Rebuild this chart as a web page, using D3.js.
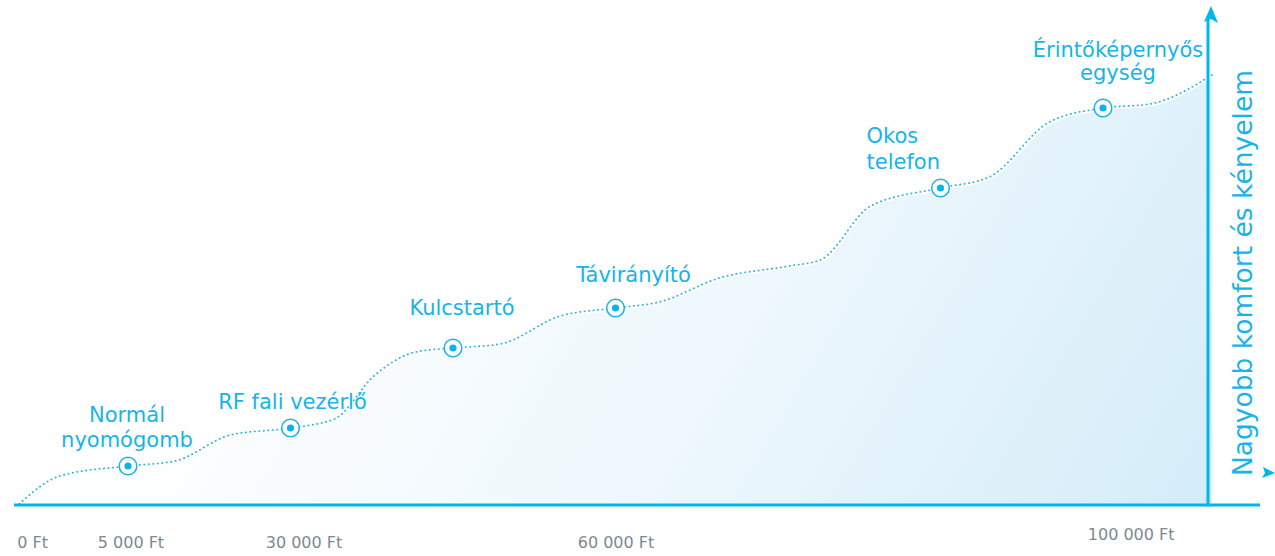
<!DOCTYPE html>
<html lang="hu">
<head>
    <meta charset="UTF-8">
    <title>Komfort és ár</title>
    <script src="https://d3js.org/d3.v7.min.js"></script>
    <style>
        * { margin: 0; padding: 0; }
        body { background: #fff; }
        svg text { font-family: "DejaVu Sans", Verdana, sans-serif; }
    </style>
</head>
<body>
<div id="content"></div>
<script>
    // termékek (x: lépés a tengelyen, y: komfort szint)
    var products = ["Normál nyomógomb", "RF fali vezérlő", "Kulcstartó", "Távirányító", "Okos telefon", "Érintőképernyős egység"];
    var productSteps = [0, 1, 2, 3, 5, 6];
    var productComfort = [9.75, 19.25, 39.25, 49.25, 79.25, 99.25];

    // a hullámos görbe pontjai (lépés, komfort)
    var curveSteps =   [-0.67, -0.42, 0, 0.29, 0.63, 1, 1.27, 1.52, 1.77, 2, 2.29, 2.66, 3, 3.27, 3.64, 4.07, 4.26, 4.57, 5, 5.3, 5.67, 6, 6.29, 6.67];
    var curveComfort = [0.25, 7.25, 9.75, 11, 17.5, 19.25, 21.5, 32.5, 38.25, 39.25, 40.25, 47.25, 49.25, 50.75, 56.75, 59.75, 61.25, 74.75, 79.25, 82, 95.75, 99.25, 100.25, 107.5];

    // x tengely feliratai
    var tickLabels = ["0 Ft", "5 000 Ft", "30 000 Ft", "60 000 Ft", "100 000 Ft"];
    var tickSteps = [-0.59, 0.015, 1.08, 3.0, 6.17];

    var yAxisLabel = "Nagyobb komfort és kényelem";

    var width = 1275, height = 556;
    var blue = "#17b3ea";

    var svg = d3.select("#content").append("svg")
        .attr("width", width).attr("height", height);

    /* méretarányok */
    var xScale = d3.scaleLinear().domain([0, 6]).range([128, 1103]);
    var yScale = d3.scaleLinear().domain([0, 100]).range([505, 105]);

    // színátmenet a kitöltéshez
    var defs = svg.append("defs");
    var grad = defs.append("linearGradient").attr("id", "fillGrad")
        .attr("gradientUnits", "userSpaceOnUse")
        .attr("x1", 300).attr("y1", 60).attr("x2", 1150).attr("y2", 560);
    grad.append("stop").attr("offset", 0).attr("stop-color", "#ffffff");
    grad.append("stop").attr("offset", 0.5).attr("stop-color", "#eff8fd");
    grad.append("stop").attr("offset", 1).attr("stop-color", "#d5edf9");

    var curveData = curveSteps.map(function(s, i){ return [s, curveComfort[i]]; });

    var area = d3.area()
        .x(function(d){ return xScale(d[0]); })
        .y0(yScale(0))
        .y1(function(d){ return yScale(d[1]); })
        .curve(d3.curveMonotoneX);

    var line = d3.line()
        .x(function(d){ return xScale(d[0]); })
        .y(function(d){ return yScale(d[1]); })
        .curve(d3.curveMonotoneX);

    svg.append("path").attr("d", area(curveData))
        .attr("fill", "url(#fillGrad)");

    // fehér szegély a pontozott vonal alatt
    svg.append("path").attr("d", line(curveData))
        .attr("fill", "none").attr("stroke", "#fff").attr("stroke-width", 5);

    svg.append("path").attr("d", line(curveData))
        .attr("fill", "none").attr("stroke", "#26b3e6")
        .attr("stroke-width", 1.8)
        .attr("stroke-linecap", "round")
        .attr("stroke-dasharray", "0.3 4.2");

    /* tengelyek */
    var axisY = yScale(0);
    svg.append("line")
        .attr("x1", 14).attr("x2", 1260)
        .attr("y1", axisY).attr("y2", axisY)
        .attr("stroke", "#00b6f0").attr("stroke-width", 3);

    var vx = 1208;
    svg.append("line")
        .attr("x1", vx).attr("x2", vx)
        .attr("y1", axisY + 1.5).attr("y2", 16)
        .attr("stroke", "#00b6f0").attr("stroke-width", 3);
    svg.append("path")
        .attr("d", "M1211,6 L1218,23 L1211,19 L1204,22 Z")
        .attr("fill", "#00b6f0");
    svg.append("path")
        .attr("d", "M1275,473 L1262,478 L1265,473 L1263,467 Z")
        .attr("fill", "#00b6f0");

    var xAxis = d3.axisBottom(xScale)
        .tickValues(tickSteps)
        .tickSize(0)
        .tickFormat(function(d, i){ return tickLabels[i]; });
    var gx = svg.append("g")
        .attr("transform", "translate(0," + axisY + ")")
        .call(xAxis);
    gx.select(".domain").remove();
    gx.selectAll("text")
        .attr("font-family", "DejaVu Sans, Verdana, sans-serif")
        .attr("font-size", 16)
        .attr("fill", "#7b8a91")
        .attr("dy", 0)
        .attr("y", function(d, i){ return i === tickLabels.length - 1 ? 35 : 43; });

    svg.append("text")
        .attr("transform", "translate(1252," + 273 + ") rotate(-90)")
        .attr("text-anchor", "middle")
        .attr("font-size", 26.5)
        .attr("fill", blue)
        .text(yAxisLabel);

    /* pontok */
    var markers = svg.selectAll("g.marker").data(products).enter()
        .append("g").attr("class", "marker")
        .attr("transform", function(d, i){
            return "translate(" + xScale(productSteps[i]) + "," + yScale(productComfort[i]) + ")";
        });
    markers.append("circle").attr("r", 8.8)
        .attr("fill", "#fff").attr("stroke", blue).attr("stroke-width", 1.5);
    markers.append("circle").attr("r", 3.6).attr("fill", "#0cb2ec");

    // feliratok elhelyezése a pontokhoz képest
    var labelLayout = [
        {anchor: "middle", dx: -1, dy: -44, lh: 25},
        {anchor: "middle", dx: 2, dy: -19, lh: 25},
        {anchor: "middle", dx: 9, dy: -33, lh: 25},
        {anchor: "middle", dx: 18, dy: -26, lh: 25},
        {anchor: "start", dx: -74, dy: -45, lh: 26},
        {anchor: "middle", dx: 15, dy: -51, lh: 23}
    ];
    var labelLines = [["Normál", "nyomógomb"], ["RF fali vezérlő"], ["Kulcstartó"], ["Távirányító"], ["Okos", "telefon"], ["Érintőképernyős", "egység"]];

    markers.append("text")
        .attr("text-anchor", function(d, i){ return labelLayout[i].anchor; })
        .attr("font-size", 21)
        .attr("fill", blue)
        .each(function(d, i){
            var t = d3.select(this);
            labelLines[i].forEach(function(s, j){
                t.append("tspan")
                    .attr("x", labelLayout[i].dx)
                    .attr("y", labelLayout[i].dy + j * labelLayout[i].lh)
                    .text(s);
            });
        });
</script>
</body>
</html>
